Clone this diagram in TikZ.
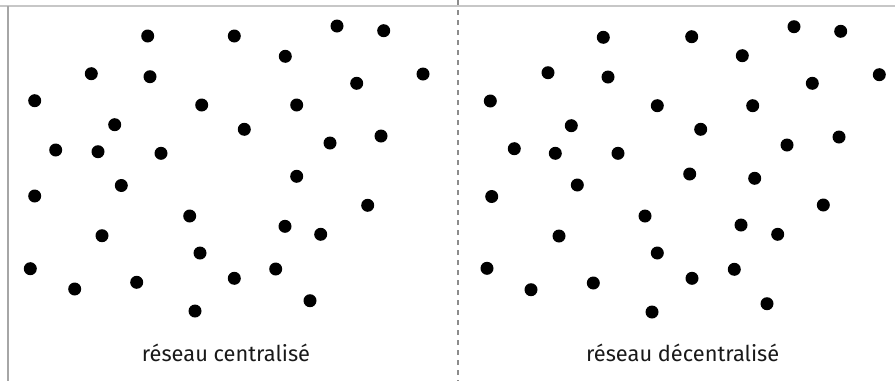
\documentclass[tikz,border=0pt]{standalone}
\usepackage{fontspec}
\setmainfont{Fira Sans}
\begin{document}
\begin{tikzpicture}[x=1pt,y=-1pt,
  dot/.style={circle,fill=black,inner sep=0pt,minimum size=13pt},
  caption/.style={font=\fontsize{21.8}{24}\selectfont,text=black!90,inner sep=0pt,anchor=base},
  frameline/.style={draw=black!22,line width=1.6pt},
  sideline/.style={draw=black!35,line width=1.4pt},
  divider/.style={draw=black!45,line width=1.4pt,dash pattern=on 5pt off 5pt}]
\useasboundingbox (0,0) rectangle (895,381);
\coordinate (tl) at (0,6);
\coordinate (tr) at (895,6);
\coordinate (lt) at (8,6);
\coordinate (lb) at (8,381);
\coordinate (dt) at (458,0);
\coordinate (db) at (458,381);
\draw[frameline] (tl) -- (tr);
\draw[sideline] (lt) -- (lb);
\draw[divider] (dt) -- (db);
% left panel
\foreach \x/\y [count=\i] in {147.7/36, 234.3/36, 337/26, 383.7/30.7, 285.3/56.3, 91.3/73.7, 150/76.7, 423/74, 356.7/83.3, 34.7/100.7, 201.7/105, 296.7/105, 114.7/124.7, 244.3/129.3, 381/136, 330/143, 55.7/150, 98/151.7, 161/153.3, 296.7/176.3, 121.3/185.5, 34.7/196, 367.7/205.3, 189.7/216, 285/226.3, 320.7/234.3, 102/235.7, 200/253, 30.3/268.7, 275.7/269, 234.3/278.3, 74.7/289, 136.7/282.3, 310/300.7, 195/311}
  \node[dot] (L\i) at (\x,\y) {};
% right panel
\foreach \x/\y [count=\i] in {603.3/37.3, 691.7/36.7, 794/26.7, 840.7/31.3, 742.3/55.7, 548/72.7, 608/77, 879.3/74.7, 812.3/83.3, 490.3/101, 657.3/105.7, 752.7/105.7, 571.3/125.7, 700.7/129.3, 839/137, 787/145, 514.3/148.7, 555.3/153.3, 618/153.3, 689.7/174, 754.7/178.3, 577.3/185, 491.7/196.5, 823.3/205, 645/216, 741/225, 777.7/234.3, 559/236, 657.3/253, 487/268.3, 734.3/269.3, 692/278.3, 531/289.7, 593.3/283, 767/303.7, 652/312}
  \node[dot] (R\i) at (\x,\y) {};
\node[caption] (capL) at (226,361.5) {réseau centralisé};
\node[caption] (capR) at (682.7,361.5) {réseau décentralisé};
\end{tikzpicture}
\end{document}
